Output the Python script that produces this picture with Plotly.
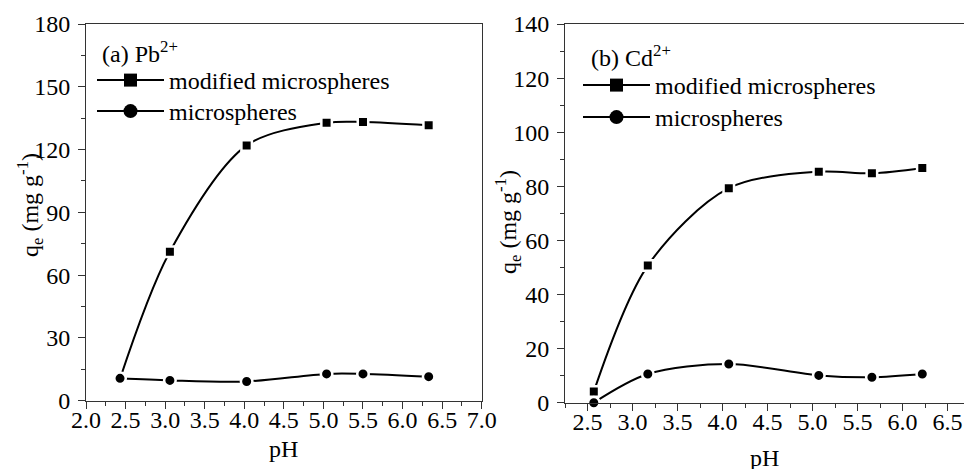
import plotly.graph_objects as go

# ---- data ----
ph_pb = [2.43, 3.06, 4.03, 5.04, 5.50, 6.33]
pb_modified = [10.5, 71.2, 122.0, 132.8, 133.2, 131.6]
pb_micro = [10.7, 9.7, 9.2, 12.8, 12.8, 11.5]

ph_cd = [2.57, 3.17, 4.07, 5.07, 5.66, 6.22]
cd_modified = [4.1, 50.7, 79.3, 85.4, 84.8, 86.8]
cd_micro = [0.0, 10.6, 14.3, 10.1, 9.4, 10.6]

series_names = ["modified microspheres", "microspheres"]
panel_labels = ["(a) Pb<sup>2+</sup>", "(b) Cd<sup>2+</sup>"]
x_title = "pH"
y_title = "q<sub>e</sub> (mg g<sup>-1</sup>)"

W, H = 964, 469
FONT = "Times New Roman, Liberation Serif, serif"
FS = 24

def px_x(p):
    return p / W

def px_y(p):
    return 1 - p / H

fig = go.Figure()

def add_series(x, y, xa, ya, symbol, size):
    fig.add_trace(go.Scatter(
        x=x, y=y, xaxis=xa, yaxis=ya, showlegend=False,
        mode="lines+markers",
        line=dict(color="black", width=2, shape="spline", smoothing=0.9),
        marker=dict(symbol=symbol, size=size, color="black",
                    line=dict(color="white", width=2.5)),
        cliponaxis=False,
    ))

def add_legend_entry(xa, ya, symbol, size, name, legend):
    fig.add_trace(go.Scatter(
        x=[None], y=[None], xaxis=xa, yaxis=ya, name=name, legend=legend,
        mode="lines+markers", showlegend=True,
        line=dict(color="black", width=2),
        marker=dict(symbol=symbol, size=size, color="black"),
    ))

add_series(ph_pb, pb_modified, "x", "y", "square", 10.5)
add_series(ph_pb, pb_micro, "x", "y", "circle", 11.5)
add_series(ph_cd, cd_modified, "x2", "y2", "square", 10.5)
add_series(ph_cd, cd_micro, "x2", "y2", "circle", 11.5)
add_legend_entry("x", "y", "square", 13, series_names[0], "legend")
add_legend_entry("x", "y", "circle", 14, series_names[1], "legend2")
add_legend_entry("x2", "y2", "square", 13, series_names[0], "legend3")
add_legend_entry("x2", "y2", "circle", 14, series_names[1], "legend4")

axis_common = dict(
    showline=True, linecolor="#333", linewidth=1,
    ticks="outside", ticklen=7, tickwidth=1, tickcolor="#333",
    showgrid=False, zeroline=False, automargin=False,
    tickfont=dict(family=FONT, size=FS, color="black"),
)

legend_common = dict(xanchor="left", yanchor="top", bgcolor="rgba(0,0,0,0)",
                     font=dict(family=FONT, size=FS, color="black"),
                     tracegroupgap=0, itemwidth=67)

fig.update_layout(
    width=W, height=H,
    margin=dict(l=0, r=0, t=0, b=0, autoexpand=False),
    paper_bgcolor="white", plot_bgcolor="white",
    font=dict(family=FONT, size=FS, color="black"),
    xaxis=dict(**axis_common, domain=[px_x(86), px_x(481.7)], anchor="y",
               range=[2.0, 7.0], dtick=0.5, tick0=2.0, tickformat=".1f",
               mirror=True, ticklabelstandoff=-10,
               minor=dict(dtick=0.25, ticklen=4, ticks="outside", tickcolor="#333")),
    yaxis=dict(**axis_common, domain=[px_y(400.7), px_y(24)], anchor="x",
               range=[0, 180], dtick=30, mirror=True, ticklabelstandoff=3,
               minor=dict(dtick=15, ticklen=4, ticks="outside", tickcolor="#333")),
    xaxis2=dict(**axis_common, domain=[px_x(565), 1.0], anchor="y2",
                range=[2.25, 2.25 + (964 - 565) / 90.0], dtick=0.5, tick0=2.5,
                tickformat=".1f", mirror=True, ticklabelstandoff=-10,
                minor=dict(dtick=0.25, tick0=2.25, ticklen=4, ticks="outside", tickcolor="#333")),
    yaxis2=dict(**axis_common, domain=[px_y(402.7), px_y(24)], anchor="x2",
                range=[0, 140], dtick=20, ticklabelstandoff=3,
                minor=dict(dtick=10, ticklen=4, ticks="outside", tickcolor="#333")),
    legend=dict(x=px_x(92), y=px_y(58), **legend_common),
    legend2=dict(x=px_x(92), y=px_y(89), **legend_common),
    legend3=dict(x=px_x(578), y=px_y(63), **legend_common),
    legend4=dict(x=px_x(578), y=px_y(95), **legend_common),
    showlegend=True,
)

annots = [
    dict(text=panel_labels[0], x=px_x(100), y=px_y(52), xanchor="left", yanchor="middle"),
    dict(text=panel_labels[1], x=px_x(589), y=px_y(56), xanchor="left", yanchor="middle"),
    dict(text=x_title, x=px_x(283), y=px_y(449), xanchor="center", yanchor="middle"),
    dict(text=x_title, x=px_x(764), y=px_y(458), xanchor="center", yanchor="middle"),
    dict(text=y_title, x=px_x(30), y=px_y(205), xanchor="center", yanchor="middle", textangle=-90),
    dict(text=y_title, x=px_x(508), y=px_y(222), xanchor="center", yanchor="middle", textangle=-90),
]
for a in annots:
    fig.add_annotation(xref="paper", yref="paper", showarrow=False,
                       font=dict(family=FONT, size=FS, color="black"), **a)

fig.write_html("out.html")
